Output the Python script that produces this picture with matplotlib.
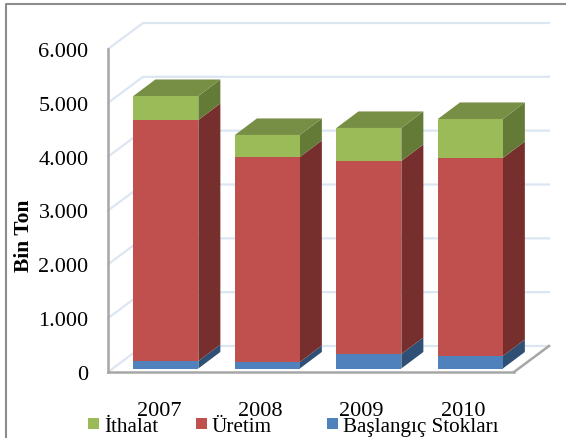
import numpy as np
from matplotlib import pyplot as plt
from matplotlib.lines import Line2D
from matplotlib.patches import Polygon, Rectangle

years = ['2007', '2008', '2009', '2010']
stocks = [139, 121, 269, 232]
production = [4477, 3808, 3586, 3678]
imports = [446, 409, 613, 725]
yticks = [0, 1000, 2000, 3000, 4000, 5000, 6000]
ytick_labels = ['0', '1.000', '2.000', '3.000', '4.000', '5.000', '6.000']
series_names = ['İthalat', 'Üretim', 'Başlangıç Stokları']

W, H = 566, 439
plt.rcParams['font.family'] = ['Liberation Serif', 'DejaVu Serif']

fig = plt.figure(figsize=(W / 100, H / 100), dpi=100)
# axes is the front plane of the fake 3d box
ax = fig.add_axes([108 / W, 1 - 373 / H, 406 / W, 323 / H])
ax.set_xlim(-0.5, 3.5)
ax.set_ylim(0, 6000)

box_dx, box_dy = 0.345, 483     # depth of the box
bar_dx, bar_dy = 0.217, 307     # depth of a bar
shift_x, lift = 0.07, 65        # bars sit a bit inside the box
width = 0.64

wall = '#dce6f2'
for v in yticks:
    ax.plot([-0.5, -0.5 + box_dx, 3.5 + box_dx], [v, v + box_dy, v + box_dy],
            color=wall, lw=1.6, clip_on=False, zorder=1)

# floor edge
ax.plot([3.5, 3.5 + box_dx], [0, box_dy], color='#a6a6a6', lw=1.8, clip_on=False, zorder=2)

x = np.arange(len(years)) + shift_x
colors = {
    'stocks': ('#4F81BD', '#2F4F75', '#4F81BD'),
    'production': ('#C0504D', '#772F2D', '#C0504D'),
    'imports': ('#9BBB59', '#647A37', '#778F45'),
}

bottom = np.full(len(years), float(lift))
for key, vals in [('stocks', stocks), ('production', production), ('imports', imports)]:
    front, side, top = colors[key]
    vals = np.array(vals, dtype=float)
    ax.bar(x, vals, width=width, bottom=bottom, color=front, zorder=4, clip_on=False)
    for xi, b, v in zip(x, bottom, vals):
        r = xi + width / 2
        ax.add_patch(Polygon([(r, b), (r + bar_dx, b + bar_dy),
                              (r + bar_dx, b + v + bar_dy), (r, b + v)],
                             closed=True, fc=side, ec='none', zorder=3, clip_on=False))
    bottom = bottom + vals

# tops of the stacks
for xi, t in zip(x, bottom):
    l, r = xi - width / 2, xi + width / 2
    ax.add_patch(Polygon([(l, t), (r, t), (r + bar_dx, t + bar_dy), (l + bar_dx, t + bar_dy)],
                         closed=True, fc=colors['imports'][2], ec='none', zorder=3, clip_on=False))

for s in ['top', 'right']:
    ax.spines[s].set_visible(False)
for s in ['left', 'bottom']:
    ax.spines[s].set_color('#a6a6a6')
    ax.spines[s].set_linewidth(1.8)
    ax.spines[s].set_zorder(2)

ax.set_xticks(np.arange(len(years)))
ax.set_xticklabels(years, fontsize=16)
ax.set_yticks(yticks)
ax.set_yticklabels(ytick_labels, fontsize=16)
ax.tick_params(axis='x', length=0, pad=21)
ax.tick_params(axis='y', length=0, pad=14)

fig.text(24 / W, 1 - 236 / H, 'Bin Ton', rotation=90, fontsize=15.5, fontweight='bold',
         ha='center', va='center')

# legend entries are not evenly spaced in the original
legend_x = [88, 196, 327]
legend_colors = ['#9BBB59', '#C0504D', '#4F81BD']
for lx, name, c in zip(legend_x, series_names, legend_colors):
    fig.add_artist(Rectangle((lx / W, 1 - 430 / H), 11 / W, 11 / H, fc=c, ec='none',
                             transform=fig.transFigure))
    fig.text((lx + 16) / W, 1 - 428 / H, name, fontsize=15.2, ha='left', va='center')

# picture frame, only left and top are visible
fig.add_artist(Line2D([6 / W, 6 / W, 1], [0, 1 - 5 / H, 1 - 5 / H], color='#8c8c8c', lw=1.5,
                      transform=fig.transFigure))

fig.savefig('out.png', dpi=100)
